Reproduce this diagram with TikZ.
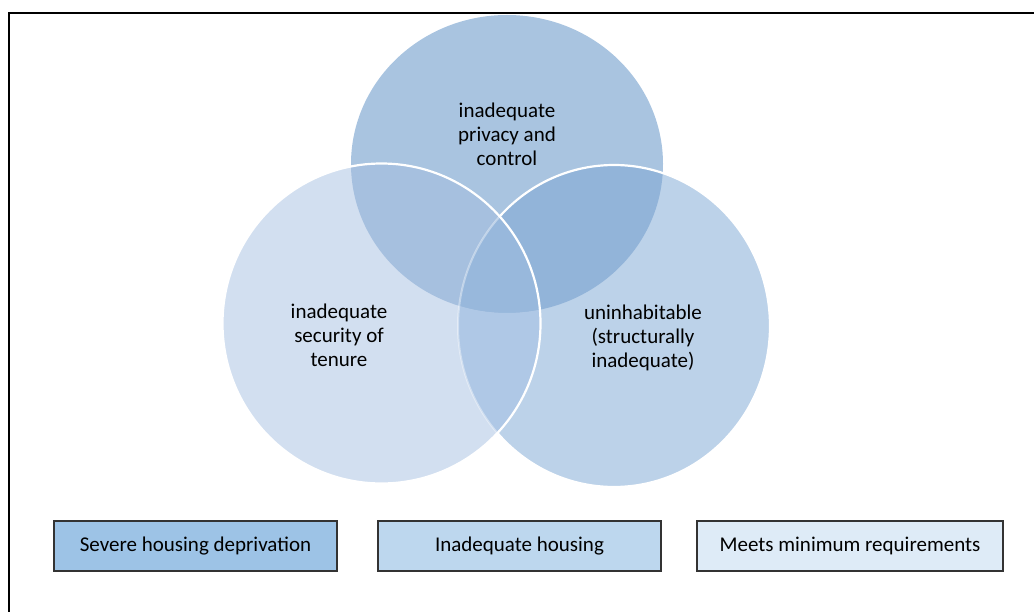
\documentclass[tikz,border=0pt]{standalone}
\usepackage{fontspec}
\setmainfont{Carlito}
\definecolor{cTop}{HTML}{A9C4E0}
\definecolor{cLeft}{HTML}{D2DFF0}
\definecolor{cRight}{HTML}{BCD2E9}
\definecolor{cTL}{HTML}{A6C0DF}
\definecolor{cTR}{HTML}{92B4D9}
\definecolor{cLR}{HTML}{AFC8E6}
\definecolor{cTLR}{HTML}{98B8DC}
\definecolor{bSevere}{HTML}{9DC3E6}
\definecolor{bInadequate}{HTML}{BDD7EE}
\definecolor{bMeets}{HTML}{DEEBF7}
\begin{document}
\begin{tikzpicture}[x=1pt,y=-1pt,
  lbl/.style={align=center, font=\fontsize{21}{24}\selectfont, inner sep=0pt},
  legendbox/.style={draw=black!80, line width=1.2pt, minimum height=50pt,
    font=\fontsize{21}{24}\selectfont, inner sep=0pt}]
\useasboundingbox (0,0) rectangle (1034,612);
\clip (0,0) rectangle (1034,612);

% circle centres
\coordinate (T) at (507,164);
\coordinate (L) at (381.5,323.5);
\coordinate (R) at (614,326);

% single regions
\fill[cTop]   (T) ellipse [x radius=156pt, y radius=149pt];
\fill[cLeft]  (L) ellipse [x radius=159pt, y radius=160pt];
\fill[cRight] (R) ellipse [x radius=156pt, y radius=161pt];

% pairwise and triple overlaps
\begin{scope}
  \clip (T) ellipse [x radius=156pt, y radius=149pt];
  \fill[cTL] (L) ellipse [x radius=159pt, y radius=160pt];
  \fill[cTR] (R) ellipse [x radius=156pt, y radius=161pt];
  \begin{scope}
    \clip (L) ellipse [x radius=159pt, y radius=160pt];
    \fill[cTLR] (R) ellipse [x radius=156pt, y radius=161pt];
  \end{scope}
\end{scope}
\begin{scope}[even odd rule]
  \clip (L) ellipse [x radius=159pt, y radius=160pt];
  \clip (0,0) rectangle (1034,612) (T) ellipse [x radius=156pt, y radius=149pt];
  \fill[cLR] (R) ellipse [x radius=156pt, y radius=161pt];
\end{scope}

% white outlines
\begin{scope}[even odd rule]
  \clip (0,0) rectangle (1034,612) (L) ellipse [x radius=159pt, y radius=160pt];
  \draw[white, line width=2.2pt] (R) ellipse [x radius=156pt, y radius=161pt];
\end{scope}
\begin{scope}
  \clip (L) ellipse [x radius=159pt, y radius=160pt];
  \draw[white, opacity=0.4, line width=2pt] (R) ellipse [x radius=156pt, y radius=161pt];
\end{scope}
\draw[white, line width=2.2pt] (L) ellipse [x radius=159pt, y radius=160pt];

% circle labels
\node[lbl] (ltop)   at (507,134) {inadequate\\privacy and\\control};
\node[lbl] (lleft)  at (339,335) {inadequate\\security of\\tenure};
\node[lbl] (lright) at (643,338) {uninhabitable\\(structurally\\inadequate)};

% legend
\node[legendbox, fill=bSevere, minimum width=283pt]     (k1) at (195.5,546) {Severe housing deprivation};
\node[legendbox, fill=bInadequate, minimum width=283pt] (k2) at (519.5,546) {Inadequate housing};
\node[legendbox, fill=bMeets, minimum width=306pt]      (k3) at (850,546)   {Meets minimum requirements};

% frame
\draw[line width=2.2pt] (9,13) rectangle (1060,640);
\end{tikzpicture}
\end{document}
